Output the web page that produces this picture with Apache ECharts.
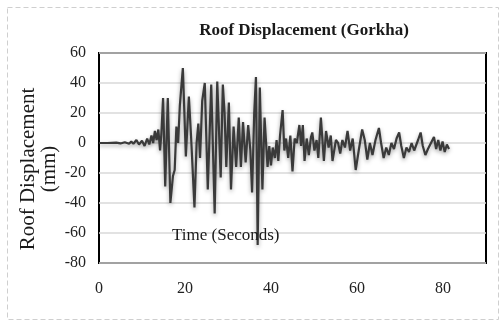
<!DOCTYPE html>
<html>
<head>
<meta charset="utf-8">
<script src="https://cdn.jsdelivr.net/npm/echarts@6/dist/echarts.min.js"></script>
<style>
  html, body { margin: 0; padding: 0; background: #fff; }
  #chart { width: 502px; height: 320px; }
</style>
</head>
<body>
<div id="chart"></div>
<script>
// time (s) and roof displacement (mm)
var times = [0, 2, 4, 5, 6, 7, 7.5, 8, 8.7, 9.3, 10, 10.6, 11.2, 11.7, 12.2, 12.6, 13.0, 13.4, 13.8, 14.2, 14.5,
  14.9, 15.4, 16.0, 16.6, 17.2, 17.6, 18.0, 18.4, 18.8, 19.5, 20.2, 20.9, 21.4, 22.2, 22.7, 23.1, 23.5, 24.0,
  24.6, 25.3, 26.1, 26.9, 27.5, 28.3, 28.8, 29.2, 29.6, 30.2, 30.7, 31.3, 31.9, 32.5, 33.0, 33.5, 34.1, 34.7,
  35.2, 35.6, 36.1, 36.5, 36.9, 37.4, 38.0, 38.5, 39.2, 39.6, 40.0, 40.4, 40.9, 41.3, 41.7, 42.1, 42.7, 43.1,
  43.5, 44.0, 44.5, 45.0, 45.5, 46.0, 46.6, 47.0, 47.4, 47.8, 48.3, 48.8, 49.3, 49.6, 50.1, 50.6, 51.0, 51.6,
  52.3, 52.8, 53.4, 53.9, 54.3, 55.1, 55.6, 56.1, 56.6, 57.2, 57.8, 58.4, 59.0, 59.7, 60.4, 61.2, 61.8, 62.4,
  63.0, 63.6, 64.3, 65.1, 65.6, 66.2, 66.8, 67.4, 68.0, 68.6, 69.2, 69.8, 70.3, 70.9, 71.5, 72.1, 72.7, 73.3,
  74.2, 74.8, 75.3, 75.9, 76.5, 77.2, 77.9, 78.4, 78.9, 79.4, 79.9, 80.4, 80.9, 81.4];
var disp = [0, 0, 0.3, -0.3, 0.5, -0.5, 1, -0.5, 2, -1, 1.5, -2, 3, -1, 5, 0, 8, 2, 9, -5, 6,
  30, -29, 30, -40, -22, -18, 11, 0, 25, 50, -9, 31, 5, -43, 0, 13, -10, 28,
  40, -31, 39, -47, 41, -23, 39, 20, -16, 27, -31, 11, -16, 17, -16, 14, -13, 12,
  -5, -33, 20, 44, -68, 37, -31, 17, -16, -2, -15, -3, -10, 2, -12, 5, 22, -5,
  3, -10, 5, -19, 3, 0, 12, -2, 12, -12, 3, -8, 4, 7, -5, 2, -10, 17,
  -12, 8, -3, 5, -12, 2, 0, -7, 2, -3, 8, -5, 3, -18, -5, 9, 2, -11,
  0, -8, 2, 10, 0, -10, -3, -8, 0, -4, 3, 7, -2, -10, -3, -6, 0, -5,
  2, 7, -2, -8, -4, 0, 4, -4, 2, -5, 1, -6, -1, -4];

var chart = echarts.init(document.getElementById('chart'));

var points = [];
for (var i = 0; i < times.length; i++) {
  points.push([times[i], disp[i]]);
}

var serif = 'Liberation Serif';

var option = {
  backgroundColor: '#fff',
  animation: false,
  title: {
    text: 'Roof Displacement (Gorkha)',
    left: 299,
    textAlign: 'center',
    top: 17,
    textStyle: { fontFamily: serif, fontWeight: 'bold', fontSize: 17, color: '#1a1a1a' }
  },
  graphic: [
    {
      type: 'rect',
      left: 5, top: 5,
      shape: { width: 491, height: 312 },
      style: { fill: 'none', stroke: '#cfcfcf', lineWidth: 1, lineDash: [5, 3] }
    },
    {
      type: 'text',
      left: 172, top: 227,
      z: 10,
      style: { text: 'Time (Seconds)', font: '17px "Liberation Serif"', fill: '#1a1a1a' }
    }
  ],
  grid: {
    left: 99, right: 16, top: 53, bottom: 57,
    show: true,
    borderColor: '#000',
    borderWidth: 2,
    backgroundColor: '#fff'
  },
  xAxis: {
    type: 'value',
    min: 0, max: 90, interval: 20,
    axisLine: { show: false },
    axisTick: { show: false },
    splitLine: { show: false },
    axisLabel: {
      showMaxLabel: false,
      margin: 18,
      fontFamily: serif, fontSize: 16, color: '#222'
    }
  },
  yAxis: {
    type: 'value',
    min: -80, max: 60, interval: 20,
    name: 'Roof Displacement\n(mm)',
    nameLocation: 'middle',
    nameRotate: 90,
    nameGap: 39,
    nameMoveOverlap: false,
    nameTextStyle: { fontFamily: serif, fontSize: 21, color: '#1a1a1a', lineHeight: 21, padding: [0, 22, 0, 0] },
    axisLine: { show: false },
    axisTick: { show: false },
    splitLine: { lineStyle: { color: '#d9d9d9', width: 1.5 } },
    axisLabel: { margin: 13, fontFamily: serif, fontSize: 16, color: '#222' }
  },
  series: [
    {
      type: 'line',
      data: points,
      showSymbol: false,
      lineStyle: {
        color: '#3a3a3a',
        width: 2.2,
        shadowColor: 'rgba(0,0,0,0.35)',
        shadowBlur: 4,
        shadowOffsetY: 2
      }
    }
  ]
};

chart.setOption(option);
</script>
</body>
</html>
